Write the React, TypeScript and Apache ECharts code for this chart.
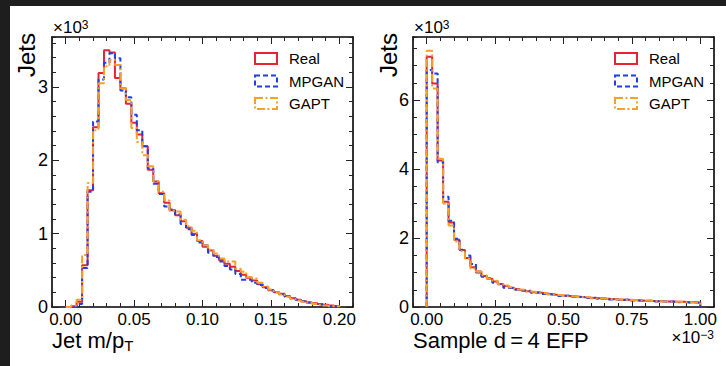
import React, { useEffect, useRef } from "react";
import * as echarts from "echarts";

const FONT = '"Liberation Sans", Arial, Helvetica, sans-serif';

const SERIES_NAMES = ["Real", "MPGAN", "GAPT"];
const SERIES_COLORS = ["#e42536", "#1f3fe6", "#f5a02a"];
const SERIES_DASH: any[] = ["solid", [5, 3], [8, 2.5, 2, 2.5]];

// Left panel: jet m/pT, 50 bins of width 0.004 from 0
const MPT_START = 0;
const MPT_WIDTH = 0.004;
const mptReal = [0, 10, 70, 570, 1590, 2450, 3190, 3500, 3470, 3120, 2980, 2770, 2510, 2350, 2190, 1870, 1710, 1550, 1420, 1320, 1250, 1170, 1080, 1000, 900, 820, 770, 700, 640, 590, 550, 490, 440, 400, 360, 310, 270, 230, 200, 180, 150, 120, 100, 80, 60, 50, 40, 30, 20, 10];
const mptMpgan = [0, 0, 40, 530, 1570, 2530, 3100, 3330, 3460, 3390, 2950, 2860, 2620, 2410, 2190, 1890, 1680, 1540, 1370, 1330, 1260, 1130, 1060, 980, 880, 840, 740, 680, 620, 560, 510, 450, 370, 370, 330, 300, 260, 230, 200, 170, 140, 120, 100, 80, 60, 40, 30, 20, 10, 10];
const mptGapt = [0, 20, 100, 710, 1690, 2410, 3050, 3280, 3370, 3300, 2980, 2820, 2440, 2250, 2070, 1920, 1710, 1570, 1450, 1310, 1300, 1190, 1100, 1040, 910, 840, 780, 730, 660, 620, 620, 520, 480, 410, 390, 330, 280, 240, 200, 170, 140, 110, 90, 70, 60, 40, 30, 20, 10, 10];

// Right panel: sample d=4 EFP (units of 1e-3), 50 bins of width 0.02 from 0
const EFP_START = 0;
const EFP_WIDTH = 0.02;
const efpReal = [7260, 6480, 4250, 3050, 2450, 1950, 1650, 1420, 1150, 1030, 900, 820, 740, 670, 610, 560, 520, 490, 460, 430, 410, 390, 370, 350, 330, 320, 310, 300, 280, 270, 260, 250, 240, 230, 220, 210, 210, 200, 190, 180, 180, 170, 170, 160, 160, 150, 150, 140, 140, 130];
const efpMpgan = [6870, 6770, 4200, 3200, 2500, 1980, 1660, 1490, 1250, 1000, 880, 840, 700, 660, 560, 550, 500, 470, 470, 410, 420, 380, 360, 360, 320, 330, 300, 290, 290, 260, 270, 240, 250, 220, 230, 200, 220, 190, 190, 170, 180, 160, 170, 150, 160, 140, 150, 130, 140, 120];
const efpGapt = [7430, 6340, 4300, 3000, 2360, 1900, 1620, 1400, 1120, 1020, 920, 830, 760, 660, 620, 570, 510, 500, 450, 440, 400, 400, 360, 350, 340, 310, 310, 290, 280, 280, 250, 250, 240, 230, 220, 220, 200, 200, 190, 180, 180, 170, 160, 160, 150, 150, 140, 140, 130, 130];

// Axis ticks
const MPT_X_TICKS = [0, 0.05, 0.1, 0.15, 0.2];
const EFP_X_TICKS = [0, 0.25, 0.5, 0.75, 1.0];
const MPT_Y_TICKS = [0, 1000, 2000, 3000];
const EFP_Y_TICKS = [0, 2000, 4000, 6000];

const r6 = (v: number) => Math.round(v * 1e6) / 1e6;

function stepData(start: number, width: number, values: number[]) {
  const pts: number[][] = [[start, 0]];
  values.forEach((v, i) => pts.push([r6(start + i * width), v]));
  pts.push([r6(start + values.length * width), 0]);
  return pts;
}

function panelAxes(
  grid: number,
  xMin: number,
  xMax: number,
  xMajor: number[],
  xMinorInt: number,
  yMax: number,
  yMajor: number[],
  yMinorInt: number
) {
  const line = { show: true, onZero: false, lineStyle: { color: "#000", width: 1.6 } };
  const noLine = { show: false, onZero: false };
  const tick = (len: number, custom?: number[]) => {
    const t: any = { show: true, inside: true, length: len, lineStyle: { color: "#222", width: 1 } };
    if (custom) t.customValues = custom;
    return t;
  };
  const label = (custom: number[], fmt: (v: number) => string, size: number) => ({
    show: true,
    customValues: custom,
    formatter: fmt,
    fontSize: size,
    color: "#000",
    fontFamily: FONT,
    margin: 4,
  });
  const noLabel = { show: false };
  const noSplit = { show: false };
  const xBase = { type: "value", gridIndex: grid, min: xMin, max: xMax, splitLine: noSplit };
  const yBase = { type: "value", gridIndex: grid, min: 0, max: yMax, splitLine: noSplit };
  const xFmt = (v: number) => v.toFixed(2);
  const yFmt = (v: number) => String(Math.round(v / 1000));
  const xAxes = [
    { ...xBase, position: "bottom", axisLine: line, axisTick: tick(7, xMajor), axisLabel: label(xMajor, xFmt, 17) },
    { ...xBase, position: "bottom", interval: xMinorInt, axisLine: noLine, axisTick: tick(4), axisLabel: noLabel },
    { ...xBase, position: "top", axisLine: line, axisTick: tick(7, xMajor), axisLabel: noLabel },
    { ...xBase, position: "top", interval: xMinorInt, axisLine: noLine, axisTick: tick(4), axisLabel: noLabel },
  ];
  const yAxes = [
    { ...yBase, position: "left", axisLine: line, axisTick: tick(7, yMajor), axisLabel: label(yMajor, yFmt, 18) },
    { ...yBase, position: "left", interval: yMinorInt, axisLine: noLine, axisTick: tick(4), axisLabel: noLabel },
    { ...yBase, position: "right", axisLine: line, axisTick: tick(7, yMajor), axisLabel: noLabel },
    { ...yBase, position: "right", interval: yMinorInt, axisLine: noLine, axisTick: tick(4), axisLabel: noLabel },
  ];
  return { xAxes, yAxes };
}

function panelSeries(axisIndex: number, start: number, width: number, sets: number[][]) {
  return sets.map((vals, i) => ({
    type: "line",
    name: SERIES_NAMES[i],
    xAxisIndex: axisIndex,
    yAxisIndex: axisIndex,
    step: "end",
    showSymbol: false,
    symbol: "none",
    silent: true,
    z: 2 + i,
    data: stepData(start, width, vals),
    lineStyle: { color: SERIES_COLORS[i], width: 2, type: SERIES_DASH[i] },
    itemStyle: { color: SERIES_COLORS[i] },
  }));
}

function legendFor(left: number) {
  return {
    orient: "vertical",
    left,
    top: 46,
    itemWidth: 22,
    itemHeight: 11,
    itemGap: 7.5,
    icon: "rect",
    selectedMode: false,
    textStyle: { fontSize: 15, color: "#000", fontFamily: FONT, padding: [0, 0, 0, 7] },
    data: SERIES_NAMES.map((n, i) => ({
      name: n,
      icon: "rect",
      itemStyle: {
        color: "rgba(0,0,0,0)",
        borderColor: SERIES_COLORS[i],
        borderWidth: 2,
        borderType: SERIES_DASH[i],
      },
    })),
  };
}

export default function App() {
  const ref = useRef<HTMLDivElement>(null);
  useEffect(() => {
    if (!ref.current) return;
    const chart = echarts.init(ref.current, undefined, { renderer: "svg" });
    const left = panelAxes(0, -0.01, 0.21, MPT_X_TICKS, 0.01, 3680, MPT_Y_TICKS, 200);
    const right = panelAxes(1, -0.05, 1.05, EFP_X_TICKS, 0.05, 7830, EFP_Y_TICKS, 500);
    const txt = (x: number, y: number, text: string, extra: any = {}, rich: any = undefined, rotation = 0) => ({
      type: "text",
      x,
      y,
      rotation,
      silent: true,
      style: {
        text,
        fontFamily: FONT,
        fill: "#000",
        fontSize: 17,
        ...extra,
        ...(rich ? { rich } : {}),
      },
    });
    const supRich = { sup: { fontSize: 12, fontFamily: FONT, fill: "#000", verticalAlign: "top", lineHeight: 12 } };
    const subRich = { sub: { fontSize: 15, fontFamily: FONT, fill: "#000", verticalAlign: "bottom", padding: [10, 0, 0, 0] } };
    chart.setOption({
      animation: false,
      backgroundColor: "#ffffff",
      grid: [
        { left: 52, top: 37, width: 301, height: 270 },
        { left: 413, top: 37, width: 301, height: 270 },
      ],
      xAxis: [...left.xAxes, ...right.xAxes],
      yAxis: [...left.yAxes, ...right.yAxes],
      legend: [legendFor(249), legendFor(609)],
      series: [
        ...panelSeries(0, MPT_START, MPT_WIDTH, [mptReal, mptMpgan, mptGapt]),
        ...panelSeries(4, EFP_START, EFP_WIDTH, [efpReal, efpMpgan, efpGapt]),
      ],
      graphic: [
        { type: "rect", silent: true, shape: { x: 0, y: 0, width: 726, height: 6 }, style: { fill: "#1e1e1e" } },
        { type: "rect", silent: true, shape: { x: 0, y: 0, width: 10, height: 366 }, style: { fill: "#1e1e1e" } },
        txt(26, 33, "Jets", { fontSize: 24, align: "right", verticalAlign: "middle" }, undefined, Math.PI / 2),
        txt(388, 33, "Jets", { fontSize: 24, align: "right", verticalAlign: "middle" }, undefined, Math.PI / 2),
        txt(53, 36, "×10{sup|3}", { fontSize: 17, align: "left", verticalAlign: "bottom", lineHeight: 17 }, supRich),
        txt(414, 36, "×10{sup|3}", { fontSize: 17, align: "left", verticalAlign: "bottom", lineHeight: 17 }, supRich),
        txt(52, 340, "Jet m/p{sub|T}", { fontSize: 22, align: "left", verticalAlign: "middle" }, subRich),
        txt(413, 340, "Sample d\u2009=\u20094 EFP", { fontSize: 22, align: "left", verticalAlign: "middle" }),
        txt(714, 346, "×10{sup|−3}", { fontSize: 17, align: "right", verticalAlign: "bottom", lineHeight: 17 }, supRich),
      ],
    });
    return () => chart.dispose();
  }, []);
  return (
    <div
      ref={ref}
      style={{ position: "absolute", left: 0, top: 0, width: 726, height: 366, background: "#fff" }}
    />
  );
}
